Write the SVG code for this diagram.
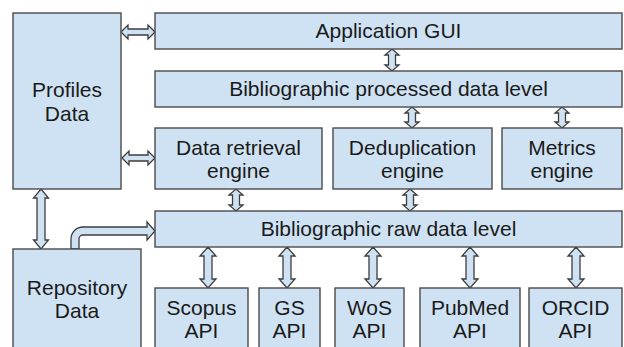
<svg xmlns="http://www.w3.org/2000/svg" width="624" height="347" viewBox="0 0 624 347">
<style>
.box{fill:#cfe2f3;stroke:#4a4a4a;stroke-width:1.4}
.arr{fill:#cfe2f3;stroke:#3d3d3d;stroke-width:1.3;stroke-linejoin:miter}
text{font-family:"Liberation Sans",Arial,sans-serif;font-size:21px;fill:#1a1a1a;text-anchor:middle}
</style>
<rect width="624" height="347" fill="#ffffff"/>
<g id="connectors">
<path class="arr" d="M392,49 L399,55 L395.5,55 L395.5,65 L399,65 L392,71 L385,65 L388.5,65 L388.5,55 L385,55 Z"/>
<path class="arr" d="M412,107 L419,113 L415.5,113 L415.5,122 L419,122 L412,128 L405,122 L408.5,122 L408.5,113 L405,113 Z"/>
<path class="arr" d="M562,107 L569,113 L565.5,113 L565.5,122 L569,122 L562,128 L555,122 L558.5,122 L558.5,113 L555,113 Z"/>
<path class="arr" d="M236,189 L243,195 L239.5,195 L239.5,205 L243,205 L236,211 L229,205 L232.5,205 L232.5,195 L229,195 Z"/>
<path class="arr" d="M410,189 L417,195 L413.5,195 L413.5,205 L417,205 L410,211 L403,205 L406.5,205 L406.5,195 L403,195 Z"/>
<path class="arr" d="M121,32 L128,25 L128,29 L148,29 L148,25 L155,32 L148,39 L148,35 L128,35 L128,39 Z"/>
<path class="arr" d="M122,158 L129,151 L129,155 L148,155 L148,151 L155,158 L148,165 L148,161 L129,161 L129,165 Z"/>
<path class="arr" d="M41,189 L48.5,198 L45,198 L45,240 L48.5,240 L41,249 L33.5,240 L37,240 L37,198 L33.5,198 Z"/>
<path class="arr" d="M208,247 L216,256 L212,256 L212,279 L216,279 L208,288 L200,279 L204,279 L204,256 L200,256 Z"/>
<path class="arr" d="M287,247 L295,256 L291,256 L291,279 L295,279 L287,288 L279,279 L283,279 L283,256 L279,256 Z"/>
<path class="arr" d="M373,247 L381,256 L377,256 L377,279 L381,279 L373,288 L365,279 L369,279 L369,256 L365,256 Z"/>
<path class="arr" d="M470,247 L478,256 L474,256 L474,279 L478,279 L470,288 L462,279 L466,279 L466,256 L462,256 Z"/>
<path class="arr" d="M576,247 L584,256 L580,256 L580,279 L584,279 L576,288 L568,279 L572,279 L572,256 L568,256 Z"/>
<path class="arr" d="M71,249 V239 A12,12 0 0 1 83,227 H147 V222 L155,231 L147,240 V235 H83 A4,4 0 0 0 79,239 V249 Z"/>
</g>
<g id="profiles"><rect class="box" x="13" y="13" width="108" height="176"/><text x="67" y="97">Profiles</text><text x="67" y="121">Data</text></g>
<g id="gui"><rect class="box" x="155" y="13" width="467" height="36"/><text x="388.5" y="38">Application GUI</text></g>
<g id="processed"><rect class="box" x="155" y="71" width="467" height="36"/><text x="388.5" y="96">Bibliographic processed data level</text></g>
<g id="retrieval"><rect class="box" x="155" y="128" width="167" height="61"/><text x="238.5" y="155">Data retrieval</text><text x="238.5" y="178">engine</text></g>
<g id="dedup"><rect class="box" x="333" y="128" width="159" height="61"/><text x="412.5" y="155">Deduplication</text><text x="412.5" y="178">engine</text></g>
<g id="metrics"><rect class="box" x="502" y="128" width="120" height="61"/><text x="562" y="155">Metrics</text><text x="562" y="178">engine</text></g>
<g id="raw"><rect class="box" x="155" y="211" width="467" height="36"/><text x="388.5" y="236">Bibliographic raw data level</text></g>
<g id="repository"><rect class="box" x="13" y="249" width="128" height="105"/><text x="77" y="295">Repository</text><text x="77" y="318">Data</text></g>
<g id="scopus"><rect class="box" x="155" y="288" width="93" height="66"/><text x="201.5" y="315">Scopus</text><text x="201.5" y="338">API</text></g>
<g id="gs"><rect class="box" x="259" y="288" width="61" height="66"/><text x="289.5" y="315">GS</text><text x="289.5" y="338">API</text></g>
<g id="wos"><rect class="box" x="335" y="288" width="69" height="66"/><text x="369.5" y="315">WoS</text><text x="369.5" y="338">API</text></g>
<g id="pubmed"><rect class="box" x="420" y="288" width="100" height="66"/><text x="470" y="315">PubMed</text><text x="470" y="338">API</text></g>
<g id="orcid"><rect class="box" x="529" y="288" width="93" height="66"/><text x="575.5" y="315">ORCID</text><text x="575.5" y="338">API</text></g>
</svg>
